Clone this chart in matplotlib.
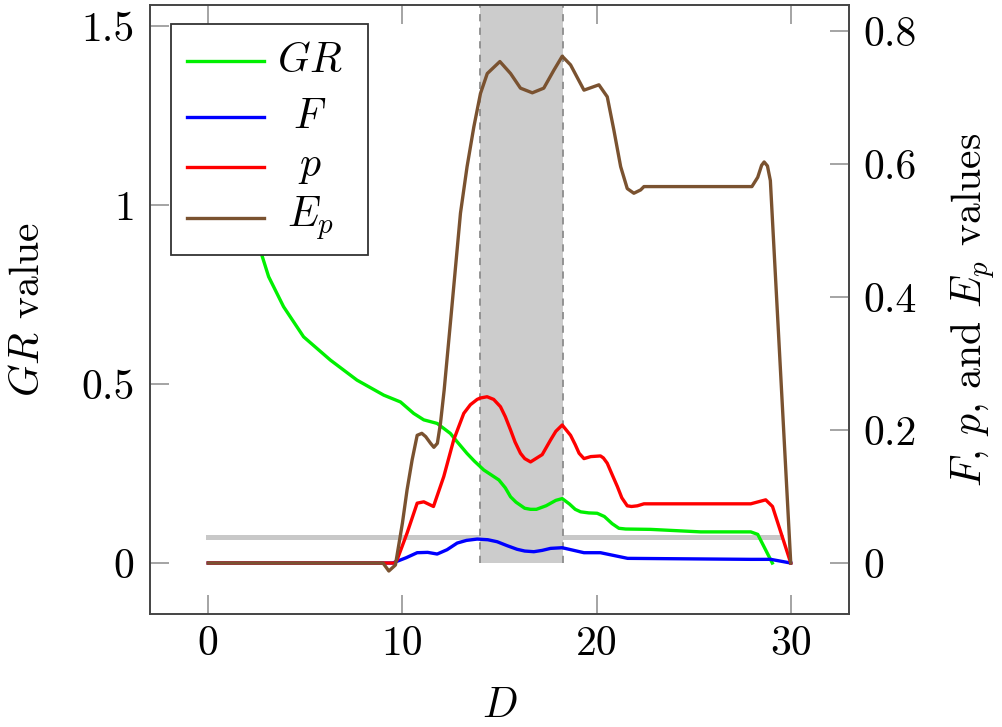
import matplotlib
matplotlib.use('Agg')
import matplotlib.pyplot as plt
from matplotlib.patches import Rectangle
from matplotlib.ticker import FuncFormatter

plt.rcParams['font.family'] = 'serif'
plt.rcParams['font.serif'] = ['cmr10']
plt.rcParams['mathtext.fontset'] = 'cm'
plt.rcParams['axes.formatter.use_mathtext'] = True

# gain ratio (left axis)
d_gr = [1.0, 2.0, 2.68, 3.11, 3.88, 4.91, 6.29, 7.66, 9.04, 9.9, 10.58, 11.1, 11.79,
        12.47, 12.8, 13.33, 13.7, 14.19, 14.97, 15.3, 15.57, 15.85, 16.3, 16.6, 16.9,
        17.4, 17.9, 18.23, 18.6, 18.9, 19.18, 19.6, 20.03, 20.4, 20.8, 21.15, 21.5,
        22.78, 25.36, 27.94, 28.3, 29.05]
gr = [1.40, 1.02, 0.874, 0.80, 0.716, 0.632, 0.567, 0.511, 0.469, 0.45, 0.418, 0.40, 0.39,
      0.362, 0.34, 0.306, 0.285, 0.26, 0.232, 0.21, 0.185, 0.17, 0.153, 0.15, 0.15,
      0.16, 0.175, 0.18, 0.165, 0.15, 0.143, 0.14, 0.139, 0.13, 0.11, 0.097, 0.095,
      0.094, 0.087, 0.087, 0.08, 0.0]

# F, p and E_p (right axis)
d_f = [0, 9.5, 10.2, 10.76, 11.3, 11.79, 12.3, 12.82, 13.3, 13.85, 14.4, 14.88, 15.4,
       15.91, 16.3, 16.77, 17.2, 17.63, 18.23, 19.35, 20.2, 21.6, 27.94, 28.97, 30]
f_val = [0, 0, 0.008, 0.0155, 0.016, 0.0135, 0.02, 0.030, 0.034, 0.036, 0.035, 0.032, 0.026,
         0.0206, 0.018, 0.017, 0.019, 0.022, 0.023, 0.0155, 0.0155, 0.007, 0.0055, 0.0055, 0]

d_p = [0, 9.6, 9.73, 10.24, 10.76, 11.1, 11.6, 12.13, 12.64, 13.16, 13.5, 13.85, 14.0,
       14.36, 14.7, 15.05, 15.3, 15.57, 15.8, 16.08, 16.3, 16.6, 17.2, 17.63, 17.9, 18.23,
       18.66, 18.9, 19.1, 19.35, 19.7, 20.2, 20.35, 20.55, 20.8, 21.07, 21.3, 21.58, 21.8,
       22.1, 22.44, 27.94, 28.71, 29.06, 30]
p_val = [0, 0, 0.005, 0.045, 0.09, 0.092, 0.085, 0.13, 0.185, 0.225, 0.238, 0.246, 0.248,
         0.25, 0.246, 0.235, 0.22, 0.20, 0.182, 0.165, 0.157, 0.152, 0.163, 0.185, 0.198, 0.2075,
         0.192, 0.178, 0.165, 0.157, 0.16, 0.161, 0.158, 0.15, 0.133, 0.115, 0.098, 0.086, 0.085,
         0.086, 0.089, 0.089, 0.095, 0.085, 0]

d_ep = [0, 9.0, 9.3, 9.64, 10.0, 10.24, 10.5, 10.76, 11.0, 11.2, 11.45, 11.62, 11.8, 11.96,
        12.15, 12.5, 12.99, 13.33, 13.68, 14.02, 14.37, 15.02, 15.57, 16.08, 16.69, 17.28,
        17.8, 18.23, 18.66, 19.35, 20.12, 20.55, 20.89, 21.24, 21.58, 21.92, 22.27, 22.44,
        28.0, 28.3, 28.5, 28.63, 28.8, 28.95, 30.0]
ep_val = [0, 0, -0.012, -0.003, 0.06, 0.11, 0.155, 0.192, 0.195, 0.19, 0.18, 0.174, 0.18, 0.21,
          0.26, 0.37, 0.526, 0.596, 0.656, 0.706, 0.736, 0.754, 0.736, 0.714, 0.707, 0.714,
          0.741, 0.762, 0.749, 0.711, 0.719, 0.701, 0.651, 0.596, 0.563, 0.556, 0.561, 0.566,
          0.566, 0.58, 0.598, 0.603, 0.597, 0.575, 0.0]

band = [14.0, 18.25]
threshold_d = [0, 29.5]
threshold = 0.073

fig = plt.figure(figsize=(10.02, 7.27), dpi=100)
ax = fig.add_axes([0.1497, 0.1554, 0.6976, 0.8377])
ax2 = ax.twinx()

fs = 30
lw = 2.4

ax.plot(threshold_d, [threshold] * 2, color='#c8c8c8', lw=3.6, zorder=1)
ax.fill_between(band, 0, 2, color='#cccccc', lw=0, zorder=1.5)
ax.vlines(band, 0, 2, colors='#8c8c8c', linestyles=(0, (4, 3.5)), lw=1.3, zorder=1.6)
ax.plot(d_gr, gr, color='#00f000', lw=lw, zorder=3, solid_joinstyle='round')

ax2.plot(d_f, f_val, color='#0000ff', lw=lw, solid_joinstyle='round')
ax2.plot(d_p, p_val, color='#ff0000', lw=lw, solid_joinstyle='round')
ax2.plot(d_ep, ep_val, color='#7a5230', lw=lw, solid_joinstyle='round')

ax.set_xlim(-3, 33)
ax.set_ylim(-0.1425, 1.559)
ax2.set_ylim(-0.0767, 0.839)

ax.set_xticks([0, 10, 20, 30])
ax.set_yticks([0, 0.5, 1, 1.5])
ax2.set_yticks([0, 0.2, 0.4, 0.6, 0.8])
fmt = FuncFormatter(lambda v, pos: '%g' % v)
ax.xaxis.set_major_formatter(fmt)
ax.yaxis.set_major_formatter(fmt)
ax2.yaxis.set_major_formatter(fmt)

ax.tick_params(axis='x', which='both', direction='in', top=True, length=13.7, width=1.1,
               color='#8c8c8c', labelsize=fs, pad=8)
ax.tick_params(axis='y', direction='in', length=13.7, width=1.1, color='#8c8c8c',
               labelsize=fs, pad=11)
ax2.tick_params(axis='y', direction='in', length=13.7, width=1.1, color='#8c8c8c',
                labelsize=fs, pad=10)
for a in (ax, ax2):
    for s in a.spines.values():
        s.set_color('#444444')
        s.set_linewidth(1.2)

fig.text(28 / 1002, 1 - 309.5 / 727, r'$GR$ value', rotation=90, ha='center', va='center', fontsize=fs)
fig.text(973 / 1002, 1 - 309.5 / 727, r'$F$, $p$, and $E_p$ values', rotation=90,
         ha='center', va='center', fontsize=fs)
fig.text(500 / 1002, 1 - 706 / 727, r'$D$', ha='center', va='center', fontsize=fs)

# legend box with centred entries
ax2.add_patch(Rectangle((0.030, 0.5895), 0.282, 0.3795, transform=ax2.transAxes,
                        facecolor='white', edgecolor='#333333', lw=1.3, zorder=10))
entries = [(r'$GR$', '#00f000'), (r'$F$', '#0000ff'), (r'$p$', '#ff0000'), (r'$E_p$', '#7a5230')]
rows = [0.908, 0.816, 0.734, 0.650]
for (label, col), y in zip(entries, rows):
    ax2.plot([0.053, 0.163], [y, y], color=col, lw=lw, transform=ax2.transAxes,
             zorder=11, clip_on=False)
    ax2.text(0.229, y, label, ha='center', va='center', fontsize=fs,
             transform=ax2.transAxes, zorder=11)

fig.savefig('out.png', dpi=100)
